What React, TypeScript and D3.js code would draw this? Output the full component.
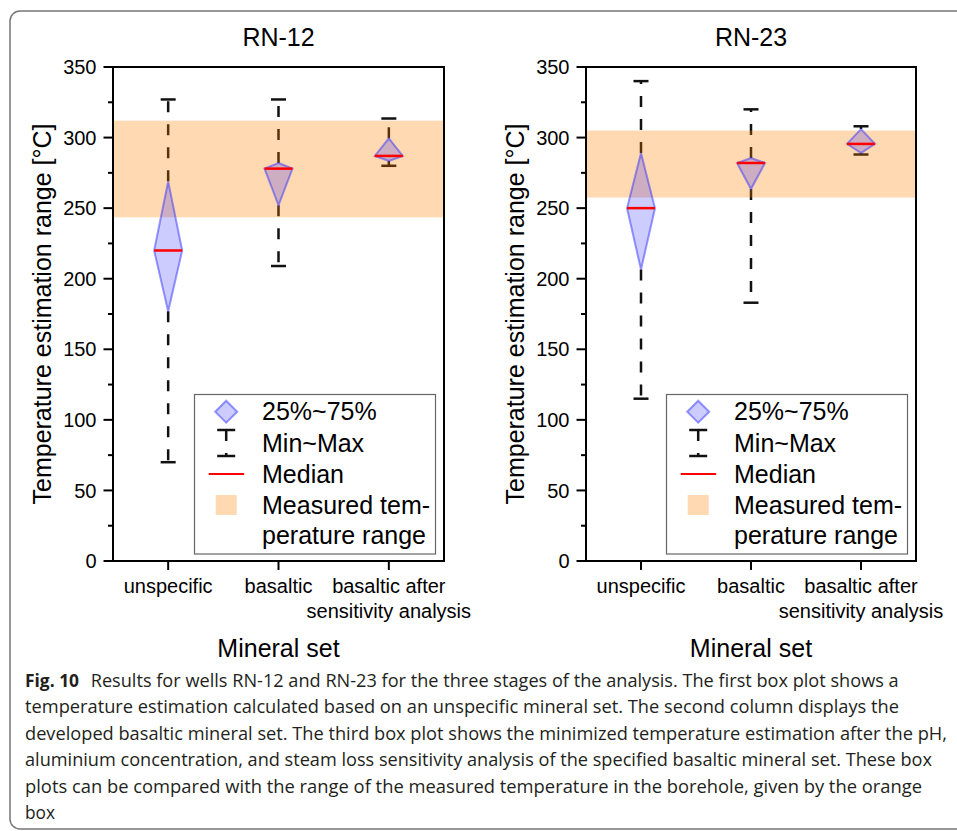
import React from "react";
import * as d3 from "d3";

const categories = ["unspecific", "basaltic", "basaltic after\nsensitivity analysis"];
const yTicks = [0, 50, 100, 150, 200, 250, 300, 350];

const rn12Min = [70, 209, 280];
const rn12Q1 = [177, 252, 283.5];
const rn12Median = [220, 278, 287];
const rn12Q3 = [269, 282, 299.5];
const rn12Max = [327, 327, 313.5];
const rn12Measured = [243.5, 312];

const rn23Min = [115, 183, 288];
const rn23Q1 = [206.5, 263.5, 289];
const rn23Median = [250, 282, 295.5];
const rn23Q3 = [289, 285.5, 306];
const rn23Max = [340, 320, 308];
const rn23Measured = [257.5, 305];

const legendLabels = ["25%~75%", "Min~Max", "Median", "Measured tem-", "perature range"];

const captionBold = "Fig. 10";
const captionLines = [
  "Results for wells RN-12 and RN-23 for the three stages of the analysis. The first box plot shows a",
  "temperature estimation calculated based on an unspecific mineral set. The second column displays the",
  "developed basaltic mineral set. The third box plot shows the minimized temperature estimation after the pH,",
  "aluminium concentration, and steam loss sensitivity analysis of the specified basaltic mineral set. These box",
  "plots can be compared with the range of the measured temperature in the borehole, given by the orange",
  "box",
];
const captionWidths = [808, 874, 922, 907, 897, 30];

const W = 957;
const H = 831;
const FONT = "'Liberation Sans', Arial, sans-serif";

type PanelProps = {
  title: string;
  left: number;
  right: number;
  mins: number[];
  q1: number[];
  med: number[];
  q3: number[];
  maxs: number[];
  measured: number[];
};

const yScale = d3.scaleLinear().domain([0, 350]).range([561, 67]);

function Panel({ title, left, right, mins, q1, med, q3, maxs, measured }: PanelProps) {
  const x = d3.scalePoint<string>().domain(categories).range([left, right]).padding(0.5);
  const step = x.step();
  const half = step * 0.127;
  const capHalf = 7.5;
  const top = yScale(350);
  const bottom = yScale(0);
  const minorTicks = d3.range(25, 350, 50);
  const legRight = right - 8.5;
  const legLeft = legRight - 241;
  const legTop = 394.5;
  const legBottom = 554;
  const symX = legLeft + 31.7;
  const txtX = legLeft + 67.5;
  const baselines = [420, 451.5, 482.5, 514, 544];
  const diamond = (cx: number, ytop: number, ymid: number, ybot: number, h: number) =>
    `M${cx},${ytop} L${cx + h},${ymid} L${cx},${ybot} L${cx - h},${ymid} Z`;
  const cx = (left + right) / 2;

  return (
    <g>
      <text x={cx} y={46} textAnchor="middle" fontSize={25} fontFamily={FONT}>{title}</text>
      {/* whiskers */}
      {categories.map((c, i) => {
        const xc = x(c)!;
        return (
          <g key={"w" + i} stroke="#111" strokeWidth={2.5} fill="none">
            <line x1={xc} x2={xc} y1={yScale(q3[i])} y2={yScale(maxs[i])} strokeDasharray="11,12" />
            <line x1={xc} x2={xc} y1={yScale(q1[i])} y2={yScale(mins[i])} strokeDasharray="11,12" />
            <line x1={xc - capHalf} x2={xc + capHalf} y1={yScale(maxs[i])} y2={yScale(maxs[i])} />
            <line x1={xc - capHalf} x2={xc + capHalf} y1={yScale(mins[i])} y2={yScale(mins[i])} />
          </g>
        );
      })}
      {/* measured band */}
      <rect
        x={left}
        width={right - left}
        y={yScale(measured[1])}
        height={yScale(measured[0]) - yScale(measured[1])}
        fill="#ff8000"
        fillOpacity={0.3}
      />
      {/* diamonds */}
      {categories.map((c, i) => {
        const xc = x(c)!;
        return (
          <g key={"d" + i}>
            <path
              d={diamond(xc, yScale(q3[i]), yScale(med[i]), yScale(q1[i]), half)}
              fill="#0000ff"
              fillOpacity={0.2}
              stroke="#3333ff"
              strokeOpacity={0.5}
              strokeWidth={2}
            />
            <line x1={xc - half} x2={xc + half} y1={yScale(med[i])} y2={yScale(med[i])} stroke="#ff0000" strokeWidth={2.5} />
          </g>
        );
      })}
      {/* frame */}
      <rect x={left} y={top} width={right - left} height={bottom - top} fill="none" stroke="#000" strokeWidth={2} />
      {/* y ticks */}
      {yTicks.map((t) => (
        <g key={"yt" + t}>
          <line x1={left - 9.5} x2={left} y1={yScale(t)} y2={yScale(t)} stroke="#000" strokeWidth={2} />
          <text x={left - 16.5} y={yScale(t)} dy="0.36em" textAnchor="end" fontSize={20} fontFamily={FONT}>{t}</text>
        </g>
      ))}
      {minorTicks.map((t) => (
        <line key={"mt" + t} x1={left - 5} x2={left} y1={yScale(t)} y2={yScale(t)} stroke="#000" strokeWidth={2} />
      ))}
      {/* x ticks */}
      {categories.map((c, i) => {
        const xc = x(c)!;
        const lines = c.split("\n");
        return (
          <g key={"xt" + i}>
            <line x1={xc} x2={xc} y1={bottom} y2={bottom + 9} stroke="#000" strokeWidth={2} />
            {lines.map((l, j) => (
              <text key={j} x={xc} y={593 + j * 25} textAnchor="middle" fontSize={20} fontFamily={FONT}>{l}</text>
            ))}
          </g>
        );
      })}
      <text x={cx} y={657} textAnchor="middle" fontSize={25} fontFamily={FONT}>Mineral set</text>
      <text
        transform={`translate(${left - 62},${(top + bottom) / 2}) rotate(-90)`}
        textAnchor="middle"
        fontSize={25}
        fontFamily={FONT}
      >
        Temperature estimation range [°C]
      </text>
      {/* legend */}
      <rect x={legLeft} y={legTop} width={legRight - legLeft} height={legBottom - legTop} fill="#fff" stroke="#666" strokeWidth={1.2} />
      <path
        d={diamond(symX, 400.7, 411.7, 422.7, 11)}
        fill="#0000ff"
        fillOpacity={0.2}
        stroke="#3333ff"
        strokeOpacity={0.5}
        strokeWidth={2}
      />
      <g stroke="#111" strokeWidth={2.5}>
        <line x1={symX} x2={symX} y1={430} y2={456} strokeDasharray="11,12" />
        <line x1={symX - 9} x2={symX + 9} y1={430} y2={430} />
        <line x1={symX - 9} x2={symX + 9} y1={456} y2={456} />
      </g>
      <line x1={symX - 17.5} x2={symX + 18} y1={474} y2={474} stroke="#ff0000" strokeWidth={2} />
      <rect x={symX - 10.5} y={495} width={21} height={20} fill="#ff8000" fillOpacity={0.3} />
      {legendLabels.map((l, i) => (
        <text key={"lg" + i} x={txtX} y={baselines[i]} fontSize={25} fontFamily={FONT}>{l}</text>
      ))}
    </g>
  );
}

export default function App() {
  return (
    <svg
      width={W}
      height={H}
      viewBox={`0 0 ${W} ${H}`}
      style={{ position: "absolute", left: 0, top: 0, background: "#fff" }}
    >
      <rect x={0} y={0} width={W} height={H} fill="#fff" />
      <rect x={10} y={11} width={1000} height={818} rx={10} ry={10} fill="none" stroke="#777" strokeWidth={1.5} />
      <Panel
        title="RN-12"
        left={113}
        right={444}
        mins={rn12Min}
        q1={rn12Q1}
        med={rn12Median}
        q3={rn12Q3}
        maxs={rn12Max}
        measured={rn12Measured}
      />
      <Panel
        title="RN-23"
        left={586}
        right={916}
        mins={rn23Min}
        q1={rn23Q1}
        med={rn23Median}
        q3={rn23Q3}
        maxs={rn23Max}
        measured={rn23Measured}
      />
      <g fontFamily="'Open Sans', 'Noto Sans', sans-serif" fontSize={18} fill="#231f20">
        <text x={25} y={687} fontWeight="bold" textLength={54} lengthAdjust="spacingAndGlyphs">{captionBold}</text>
        {captionLines.map((l, i) => (
          <text
            key={"cap" + i}
            x={i === 0 ? 90.7 : 25}
            y={687 + i * 26.4}
            textLength={captionWidths[i]}
            lengthAdjust="spacingAndGlyphs"
          >
            {l}
          </text>
        ))}
      </g>
    </svg>
  );
}
